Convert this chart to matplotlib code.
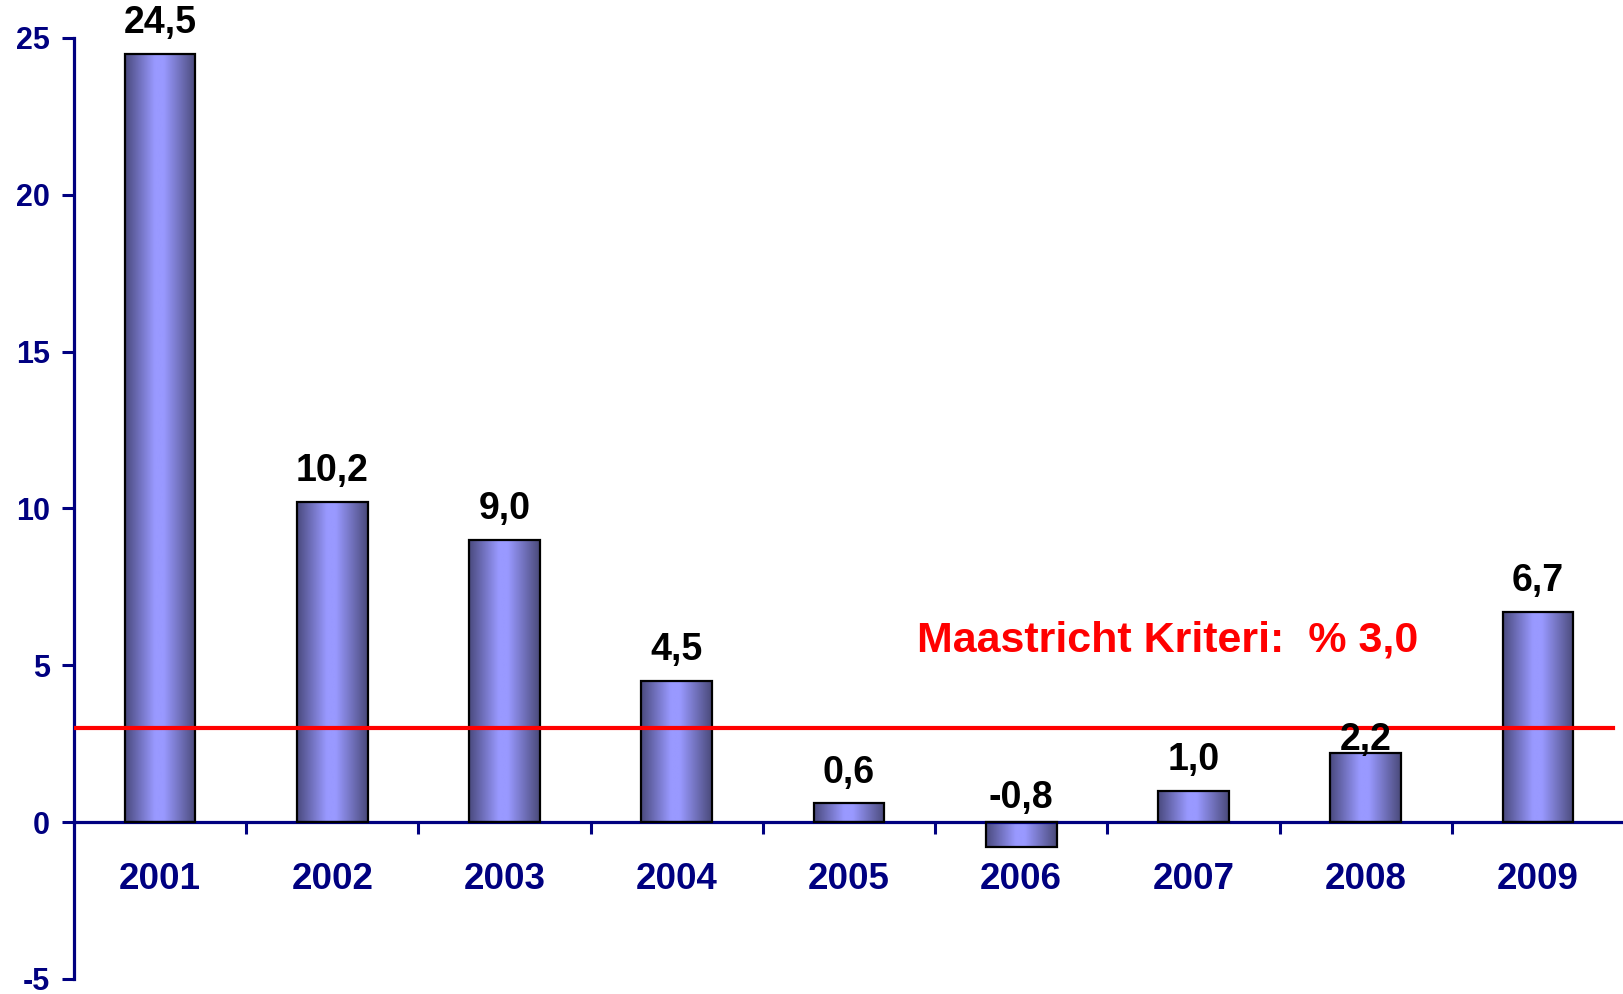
import matplotlib.pyplot as plt
import numpy as np
from matplotlib.colors import LinearSegmentedColormap

years = ["2001", "2002", "2003", "2004", "2005", "2006", "2007", "2008", "2009"]
values = [24.5, 10.2, 9.0, 4.5, 0.6, -0.8, 1.0, 2.2, 6.7]
limit = 3.0
limit_text = "Maastricht Kriteri:  % 3,0"

NAVY = "#000080"
plt.rcParams['font.family'] = ['Liberation Sans', 'DejaVu Sans']
plt.rcParams['font.weight'] = 'bold'
plt.rcParams['axes.unicode_minus'] = False

fig = plt.figure(figsize=(16.24, 9.94), dpi=100)
ax = fig.add_axes([74/1624, 1-979/994, 1-74/1624, (979-38)/994])

x = np.arange(len(years))
W = 0.41
bars = ax.bar(x, values, width=W, facecolor='none', edgecolor='black', linewidth=1.6, zorder=3)

cmap = LinearSegmentedColormap.from_list("cyl", [(0, "#4a4a7e"), (0.42, "#9999ff"), (0.55, "#9999ff"), (1, "#4a4a7a")])
grad = np.linspace(0, 1, 256).reshape(1, -1)
for b in bars:
    x0, y0 = b.get_x(), b.get_y()
    ax.imshow(grad, cmap=cmap, aspect='auto', extent=(x0, x0 + b.get_width(), y0, y0 + b.get_height()),
              zorder=2, interpolation='bilinear')

# value labels (2008 label sits on the bar top in the original)
for i, v in enumerate(values):
    off = 15
    if years[i] == "2008":
        off = 2
    elif v < 0:
        off = 10
    ax.annotate(f"{v:.1f}".replace('.', ','), (x[i], max(v, 0)), xytext=(0, off), textcoords='offset points',
                ha='center', va='baseline', fontsize=27, fontweight='bold', color='black', zorder=5)

ax.axhline(limit, xmin=0, xmax=0.993, color='red', linewidth=3, zorder=4)
ax.text(5.85, 5.45, limit_text, color='red', fontsize=31, fontweight='bold', ha='center', va='baseline')

ax.set_xlim(-0.5, 8.5)
ax.set_ylim(-5, 25)

for s in ['top', 'right']:
    ax.spines[s].set_visible(False)
ax.spines['bottom'].set_position(('data', 0))
ax.spines['bottom'].set_color(NAVY)
ax.spines['left'].set_color(NAVY)
ax.spines['bottom'].set_linewidth(2.3)
ax.spines['left'].set_linewidth(2.3)

ax.set_yticks(range(-5, 26, 5))
ax.tick_params(axis='y', colors=NAVY, length=8.5, width=2.2, pad=9, labelsize=22)
for lab in ax.get_yticklabels():
    lab.set_fontweight('bold')

ax.set_xticks(np.arange(0.5, 8, 1.0))
ax.set_xticklabels([])
ax.set_xticks(x, minor=True)
ax.set_xticklabels(years, minor=True)
ax.tick_params(axis='x', which='major', colors=NAVY, length=8.5, width=2.2, direction='out')
ax.tick_params(axis='x', which='minor', length=0, pad=29, labelsize=26.5, labelcolor=NAVY)
for lab in ax.get_xticklabels(minor=True):
    lab.set_fontweight('bold')

fig.savefig("out.png", dpi=100)
